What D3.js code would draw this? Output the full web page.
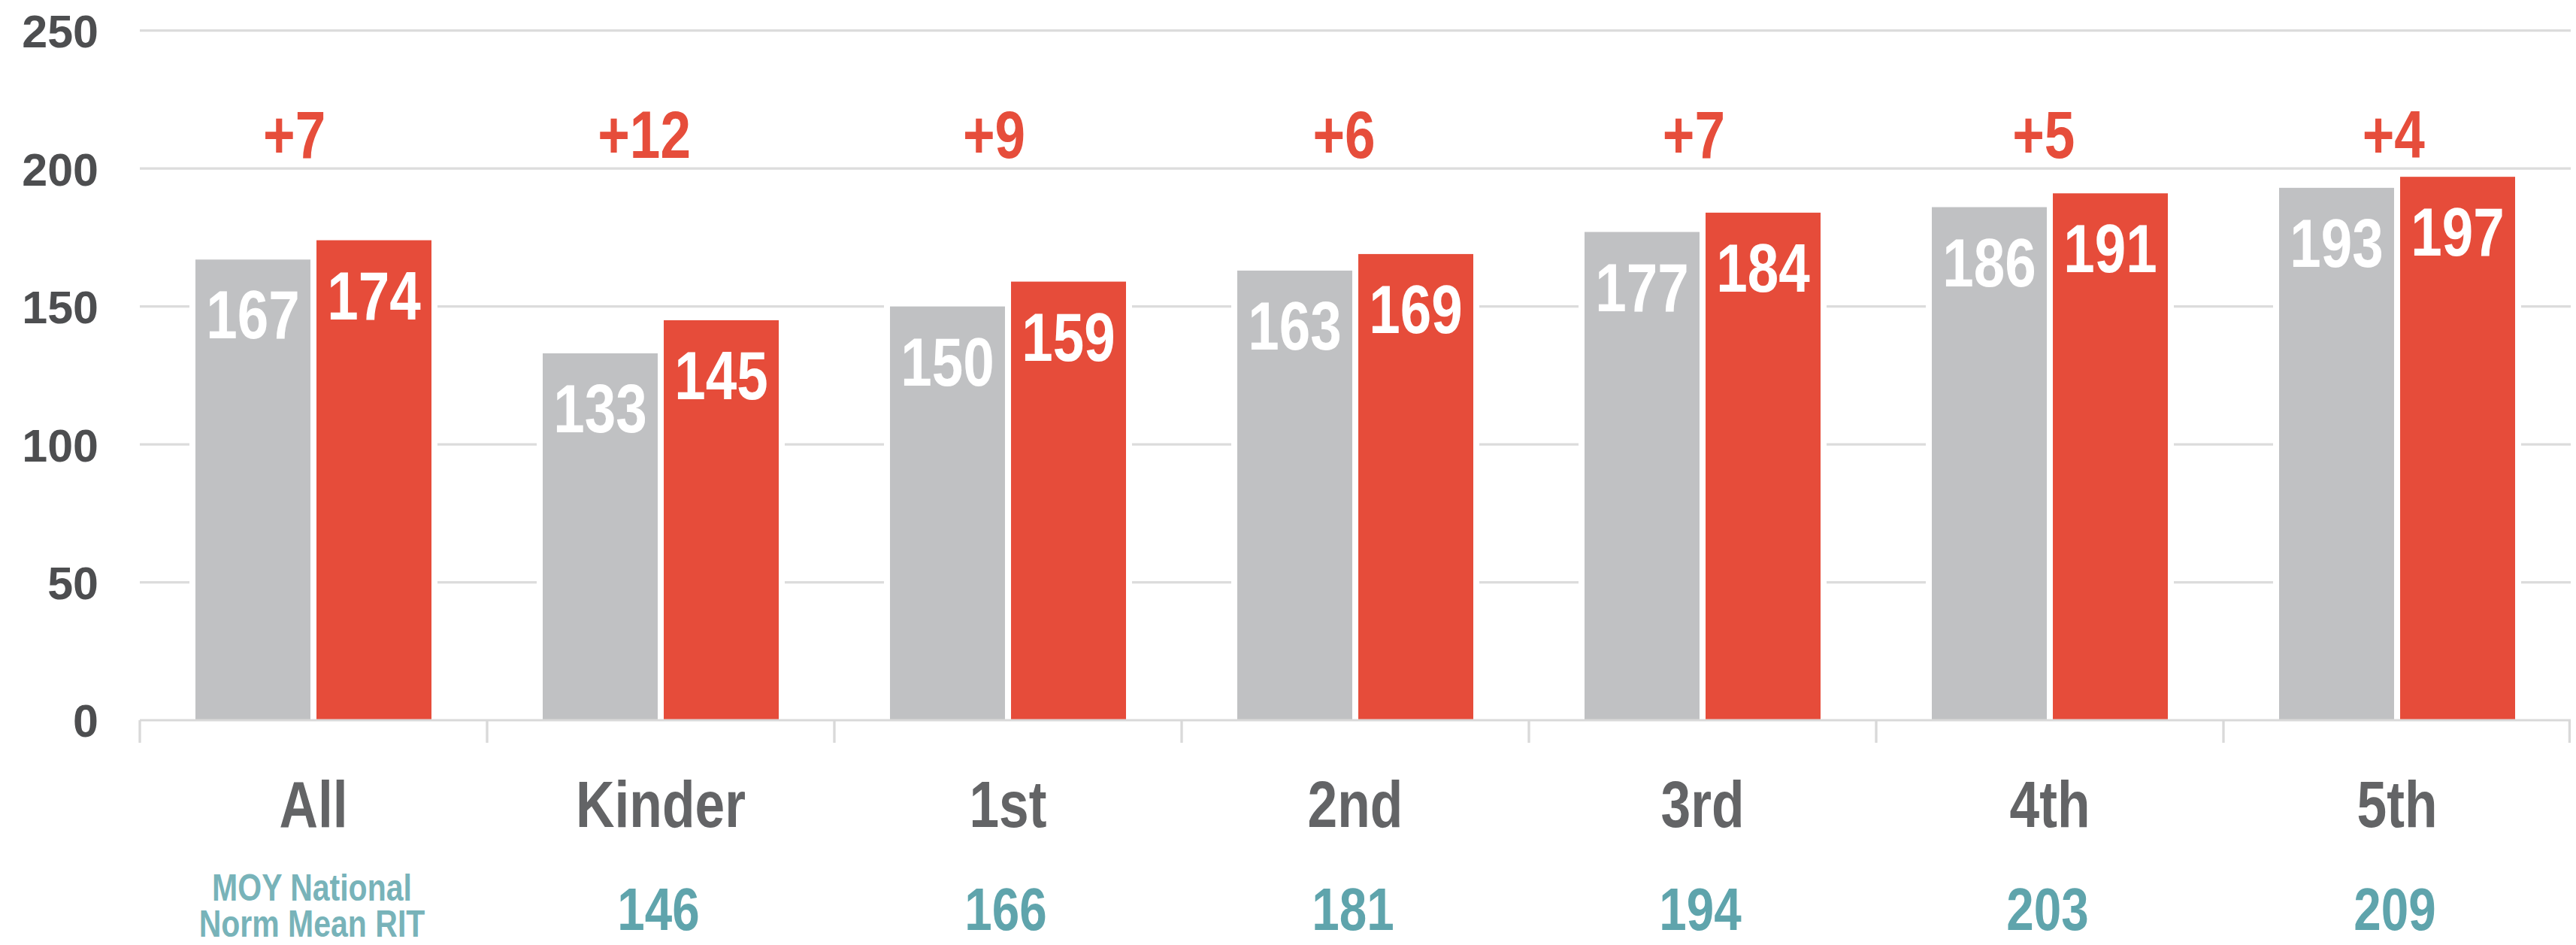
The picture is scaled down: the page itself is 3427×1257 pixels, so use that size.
<!DOCTYPE html>
<html>
<head>
<meta charset="utf-8">
<script src="https://cdn.jsdelivr.net/npm/d3@7"></script>
<style>
  html, body { margin: 0; padding: 0; background: #fff; }
  svg { display: block; }
  .narrow { font-family: "Liberation Sans", Arial, sans-serif; font-weight: bold; }
  .ytick { font-family: "Liberation Sans", Arial, sans-serif; font-weight: bold; }
</style>
</head>
<body>
<div id="chart"></div>
<script>
// Data
const categories = ["All", "Kinder", "1st", "2nd", "3rd", "4th", "5th"];
const prevValues = [167, 133, 150, 163, 177, 186, 193];   // grey bars
const currValues = [174, 145, 159, 169, 184, 191, 197];   // red bars
const deltas = [7, 12, 9, 6, 7, 5, 4];
const normValues = [null, 146, 166, 181, 194, 203, 209];
const normTitle = ["MOY National", "Norm Mean RIT"];
const yTicks = [0, 50, 100, 150, 200, 250];

const width = 3427, height = 1257;
const left = 186, right = 3420;
const squeeze = 0.82; // no condensed font installed, so squeeze Liberation Sans

const svg = d3.select("#chart")
    .append("svg")
    .attr("width", width)
    .attr("height", height);

const x0 = d3.scaleBand()
    .domain(categories)
    .range([left, right])
    .padding(0);

// bar pair inside each category
const x1 = d3.scaleBand()
    .domain(["prev", "curr"])
    .range([74, x0.bandwidth() - 74])
    .paddingInner(0.05);

// the delta labels sit on a slightly wider spacing than the bars
const xDelta = d3.scaleBand()
    .domain(categories)
    .range([159, 3417]);

const y = d3.scaleLinear()
    .domain([0, 250])
    .range([958, 40.7]);

function place(sel, fx, fy) {
    sel.attr("class", "narrow")
        .attr("text-anchor", "middle")
        .attr("transform", (d, i) => `translate(${fx(d, i)},${fy(d, i)}) scale(${squeeze},1)`);
    return sel;
}

// gridlines
svg.append("g")
    .selectAll("line")
    .data(yTicks.filter(d => d > 0))
    .enter()
    .append("line")
    .attr("x1", left)
    .attr("x2", right)
    .attr("y1", d => y(d))
    .attr("y2", d => y(d))
    .style("stroke", "#dcdcdc")
    .style("stroke-width", 3.3);

// y axis labels
const yAxis = svg.append("g")
    .attr("transform", "translate(131,0)")
    .call(d3.axisLeft(y).tickValues(yTicks).tickSize(0).tickPadding(0));
yAxis.select(".domain").remove();
yAxis.selectAll("text")
    .attr("class", "ytick")
    .attr("dy", "0.36em")
    .style("font-size", "61px")
    .style("fill", "#4d4e50");

const bars = [];
categories.forEach((c, i) => {
    bars.push({ cat: c, key: "prev", value: prevValues[i] });
    bars.push({ cat: c, key: "curr", value: currValues[i] });
});
const colors = { prev: "#c0c1c3", curr: "#e64c3a" };
const barX = d => x0(d.cat) + x1(d.key);

// white halo behind bars (breaks the gridlines)
svg.append("g")
    .selectAll("rect")
    .data(bars)
    .enter()
    .append("rect")
    .attr("x", d => barX(d) - 8)
    .attr("y", d => y(d.value) - 8)
    .attr("width", x1.bandwidth() + 16)
    .attr("height", d => y(0) - y(d.value) + 8)
    .style("fill", "#fff");

svg.append("g")
    .selectAll("rect")
    .data(bars)
    .enter()
    .append("rect")
    .attr("x", barX)
    .attr("y", d => y(d.value))
    .attr("width", x1.bandwidth())
    .attr("height", d => y(0) - y(d.value))
    .style("fill", d => colors[d.key]);

// values inside bars
svg.append("g")
    .selectAll("text")
    .data(bars)
    .enter()
    .append("text")
    .call(place, d => barX(d) + x1.bandwidth() / 2, d => y(d.value) + 105)
    .style("font-size", "91px")
    .style("fill", "#fff")
    .text(d => d.value);

// baseline and category ticks
svg.append("line")
    .attr("x1", left)
    .attr("x2", right)
    .attr("y1", y(0))
    .attr("y2", y(0))
    .style("stroke", "#d9d9d9")
    .style("stroke-width", 3);

const edges = categories.map(c => x0(c)).concat([x0(categories[categories.length - 1]) + x0.bandwidth()]);
svg.append("g")
    .selectAll("line")
    .data(edges)
    .enter()
    .append("line")
    .attr("x1", d => Math.min(d, right - 1.6))
    .attr("x2", d => Math.min(d, right - 1.6))
    .attr("y1", y(0))
    .attr("y2", y(0) + 30)
    .style("stroke", "#d9d9d9")
    .style("stroke-width", 3.3);

// delta labels
svg.append("g")
    .selectAll("text")
    .data(deltas)
    .enter()
    .append("text")
    .call(place, (d, i) => xDelta(categories[i]) + xDelta.bandwidth() / 2, () => 210)
    .style("font-size", "89px")
    .style("fill", "#e64d3b")
    .text(d => "+" + d);

// category labels
svg.append("g")
    .selectAll("text")
    .data(categories)
    .enter()
    .append("text")
    .call(place, d => x0(d) + x0.bandwidth() / 2, () => 1100)
    .style("font-size", "87px")
    .style("fill", "#636466")
    .text(d => d);

// national norm row
svg.append("g")
    .selectAll("text")
    .data(normValues.map((v, i) => ({ v: v, cat: categories[i] })).filter(d => d.v !== null))
    .enter()
    .append("text")
    .call(place, d => x0(d.cat) + x0.bandwidth() / 2 - 3, () => 1237)
    .style("font-size", "80px")
    .style("fill", "#5fa4ac")
    .text(d => d.v);

svg.append("g")
    .selectAll("text")
    .data(normTitle)
    .enter()
    .append("text")
    .call(place, () => x0(categories[0]) + x0.bandwidth() / 2 - 2, (d, i) => 1198 + i * 48)
    .style("font-size", "50px")
    .style("fill", "#78b3b9")
    .text(d => d);
</script>
</body>
</html>
